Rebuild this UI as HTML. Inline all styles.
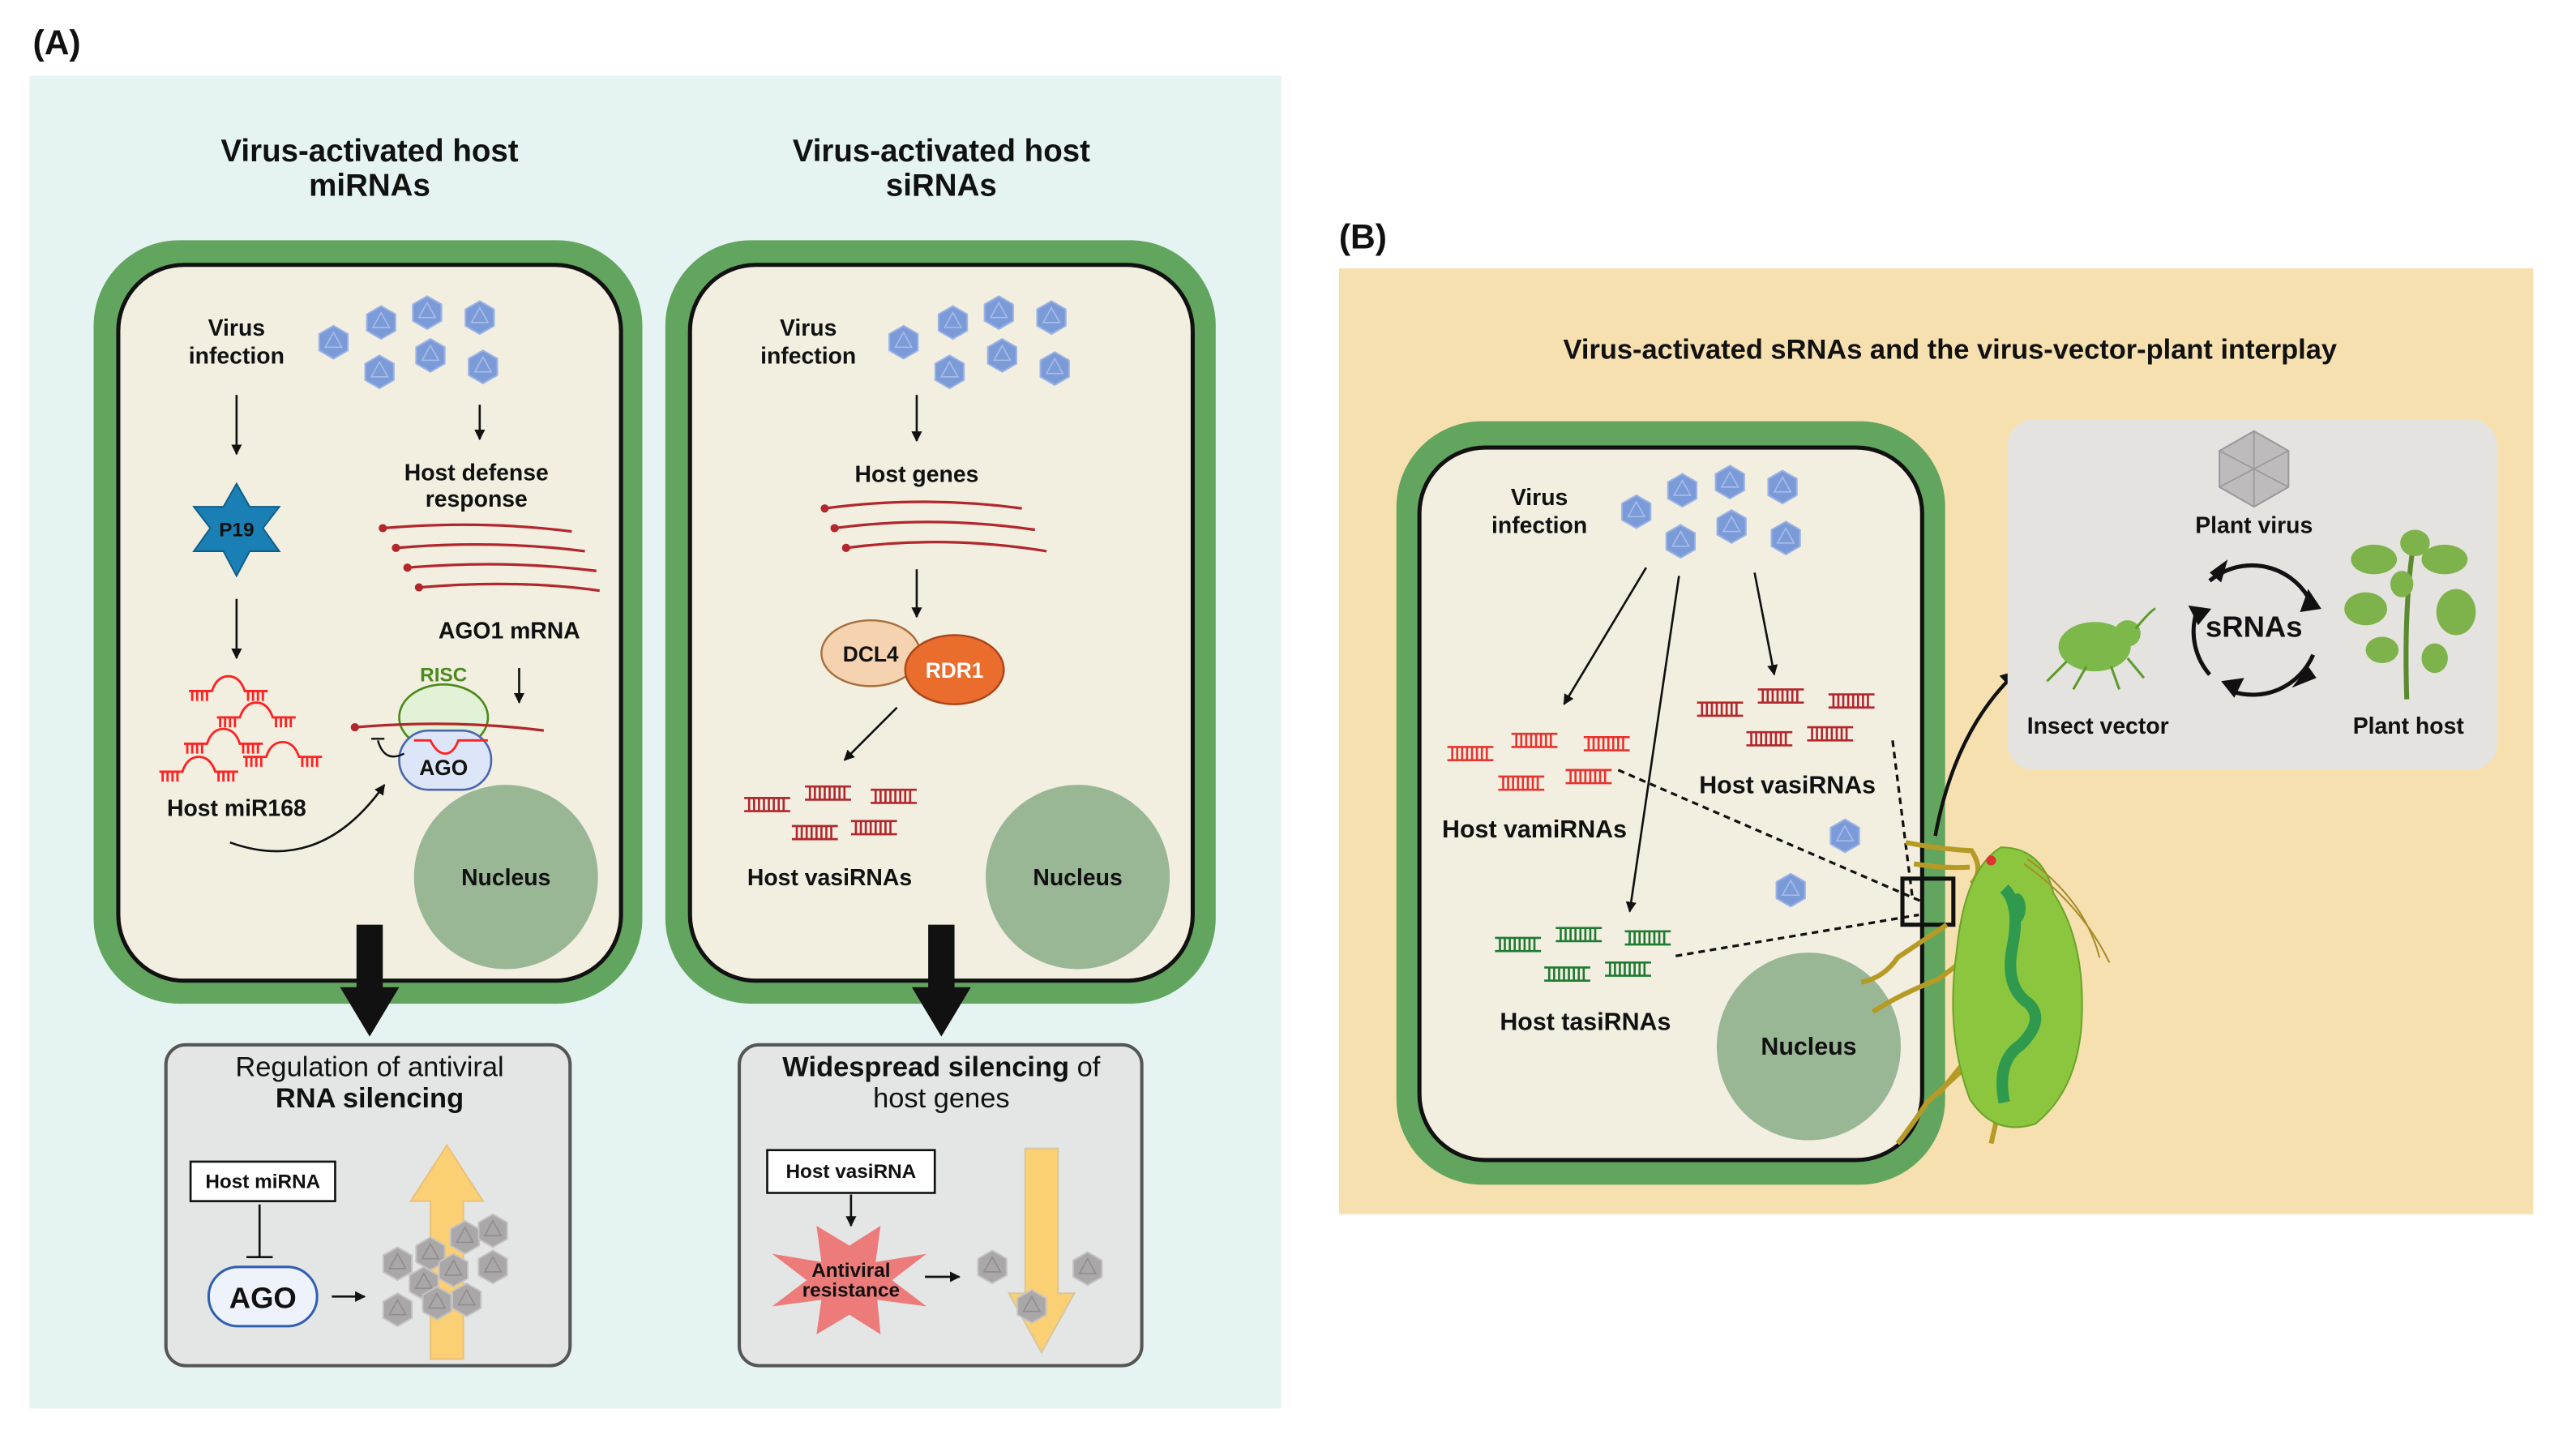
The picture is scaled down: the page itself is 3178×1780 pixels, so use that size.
<!DOCTYPE html>
<html><head><meta charset="utf-8"><style>
html,body{margin:0;padding:0;background:#fff}
svg{display:block}
text{font-family:"Liberation Sans",sans-serif;font-weight:bold;fill:#111}
</style></head><body>
<svg width="3178" height="1780" viewBox="0 0 1568 877" preserveAspectRatio="none" xmlns="http://www.w3.org/2000/svg">
<defs>
<g id="hx"><polygon points="0,-10 8.7,-5 8.7,5 0,10 -8.7,5 -8.7,-5" fill="#7b9ad8" stroke="#9cb3e4" stroke-width="1"/><polygon points="0,-6 5,3 -5,3" fill="none" stroke="#a8bde8" stroke-width="0.8"/></g>
<g id="gx"><polygon points="0,-10 8.7,-5 8.7,5 0,10 -8.7,5 -8.7,-5" fill="#a9a7a7" stroke="#c4c2c2" stroke-width="1"/><polygon points="0,-6 5,3 -5,3" fill="none" stroke="#8f8d8d" stroke-width="0.8"/></g>
<g id="dr"><path d="M0,0h28M0,8h28M3,0v8M6,0v8M9,0v8M12,0v8M15,0v8M18,0v8M21,0v8M24,0v8" stroke="#b3262c" stroke-width="1.3" fill="none"/></g>
<g id="dp"><path d="M0,0h28M0,8h28M3,0v8M6,0v8M9,0v8M12,0v8M15,0v8M18,0v8M21,0v8M24,0v8" stroke="#e8332f" stroke-width="1.3" fill="none"/></g>
<g id="dg"><path d="M0,0h28M0,8h28M3,0v8M6,0v8M9,0v8M12,0v8M15,0v8M18,0v8M21,0v8M24,0v8" stroke="#1f7a33" stroke-width="1.3" fill="none"/></g>
<g id="mi"><path d="M0,0h14q3,-9 10,-9q7,0 10,9h14M2,0v6M5,0v6M8,0v6M11,0v6M36,0v6M39,0v6M42,0v6M45,0v6" stroke="#f22" stroke-width="1.4" fill="none"/></g>
<marker id="ar" viewBox="0 0 10 10" refX="9" refY="5" markerWidth="5" markerHeight="5" orient="auto"><path d="M0,0L10,5L0,10z" fill="#111"/></marker>
</defs>

<!-- Panel A -->
<text x="20" y="33" font-size="21">(A)</text>
<rect x="18" y="46" width="762" height="810" fill="#e5f4f3"/>
<text x="225" y="98" font-size="19" text-anchor="middle">Virus-activated host</text>
<text x="225" y="119" font-size="19" text-anchor="middle">miRNAs</text>
<text x="573" y="98" font-size="19" text-anchor="middle">Virus-activated host</text>
<text x="573" y="119" font-size="19" text-anchor="middle">siRNAs</text>

<rect x="57" y="146" width="334" height="464" rx="52" fill="#62a55f"/>
<rect x="72" y="161" width="306" height="435" rx="40" fill="#f2efe1" stroke="#111" stroke-width="2.5"/>
<text x="144" y="204" font-size="14" text-anchor="middle">Virus</text>
<text x="144" y="221" font-size="14" text-anchor="middle">infection</text>
<use href="#hx" x="203" y="208"/><use href="#hx" x="232" y="196"/><use href="#hx" x="260" y="190"/><use href="#hx" x="292" y="193"/>
<use href="#hx" x="231" y="226"/><use href="#hx" x="262" y="216"/><use href="#hx" x="294" y="223"/>
<line x1="144" y1="240" x2="144" y2="276" stroke="#111" stroke-width="1.3" marker-end="url(#ar)"/>
<line x1="292" y1="246" x2="292" y2="267" stroke="#111" stroke-width="1.3" marker-end="url(#ar)"/>
<text x="290" y="292" font-size="14" text-anchor="middle">Host defense</text>
<text x="290" y="308" font-size="14" text-anchor="middle">response</text>
<g stroke="#b3262c" stroke-width="1.6" fill="none">
<path d="M233,321q60,-5 115,2"/><path d="M241,333q60,-5 115,2"/><path d="M248,345q60,-5 115,2"/><path d="M255,357q60,-5 110,2"/>
</g>
<g fill="#b3262c"><circle cx="233" cy="321" r="2.5"/><circle cx="241" cy="333" r="2.5"/><circle cx="248" cy="345" r="2.5"/><circle cx="255" cy="357" r="2.5"/></g>
<text x="310" y="388" font-size="14" text-anchor="middle">AGO1 mRNA</text>
<polygon points="144,294 152,308 170,308 160,321 170,335 152,335 144,350 136,335 118,335 128,321 118,308 136,308" fill="#1a7fb5" stroke="#0f5f8a"/>
<text x="144" y="326" font-size="12" text-anchor="middle">P19</text>
<line x1="144" y1="364" x2="144" y2="400" stroke="#111" stroke-width="1.3" marker-end="url(#ar)"/>
<use href="#mi" x="115" y="420"/><use href="#mi" x="132" y="436"/><use href="#mi" x="112" y="452"/><use href="#mi" x="148" y="460"/><use href="#mi" x="97" y="469"/>
<text x="144" y="496" font-size="14" text-anchor="middle">Host miR168</text>
<path d="M140,512q55,20 94,-35" stroke="#111" stroke-width="1.3" fill="none" marker-end="url(#ar)"/>
<text x="270" y="414" font-size="12" style="fill:#4a8a1a" text-anchor="middle">RISC</text>
<ellipse cx="270" cy="436" rx="27" ry="20" fill="#e2f2d6" stroke="#4a8a1a" stroke-width="1.3"/>
<rect x="243" y="444" width="56" height="36" rx="18" fill="#dde6f8" stroke="#4a66b0" stroke-width="1.3"/>
<text x="270" y="471" font-size="13" text-anchor="middle">AGO</text>
<path d="M216,442q60,-5 115,2" stroke="#b3262c" stroke-width="1.6" fill="none"/><circle cx="216" cy="442" r="2.5" fill="#b3262c"/>
<path d="M252,450h10q4,8 9,8q5,0 8,-8h18" stroke="#f22" stroke-width="1.4" fill="none"/>
<path d="M246,458q-12,6 -16,-8M226,449h8" stroke="#111" stroke-width="1.2" fill="none"/>
<line x1="316" y1="406" x2="316" y2="427" stroke="#111" stroke-width="1.3" marker-end="url(#ar)"/>
<ellipse cx="308" cy="533" rx="56" ry="56" fill="#99b795"/>
<text x="308" y="538" font-size="14" text-anchor="middle">Nucleus</text>

<rect x="405" y="146" width="335" height="464" rx="52" fill="#62a55f"/>
<rect x="420" y="161" width="306" height="435" rx="40" fill="#f2efe1" stroke="#111" stroke-width="2.5"/>
<text x="492" y="204" font-size="14" text-anchor="middle">Virus</text>
<text x="492" y="221" font-size="14" text-anchor="middle">infection</text>
<use href="#hx" x="550" y="208"/><use href="#hx" x="580" y="196"/><use href="#hx" x="608" y="190"/><use href="#hx" x="640" y="193"/>
<use href="#hx" x="578" y="226"/><use href="#hx" x="610" y="216"/><use href="#hx" x="642" y="224"/>
<line x1="558" y1="240" x2="558" y2="268" stroke="#111" stroke-width="1.3" marker-end="url(#ar)"/>
<text x="558" y="293" font-size="14" text-anchor="middle">Host genes</text>
<g stroke="#b3262c" stroke-width="1.6" fill="none"><path d="M502,309q60,-8 120,0"/><path d="M508,321q60,-8 122,1"/><path d="M515,333q60,-8 122,2"/></g>
<g fill="#b3262c"><circle cx="502" cy="309" r="2.5"/><circle cx="508" cy="321" r="2.5"/><circle cx="515" cy="333" r="2.5"/></g>
<line x1="558" y1="346" x2="558" y2="375" stroke="#111" stroke-width="1.3" marker-end="url(#ar)"/>
<ellipse cx="530" cy="397" rx="30" ry="20" fill="#f5d3b0" stroke="#a86f3c" stroke-width="1.2"/>
<text x="530" y="402" font-size="13" text-anchor="middle">DCL4</text>
<ellipse cx="581" cy="407" rx="30" ry="21" fill="#ea6d2e" stroke="#a8461a" stroke-width="1.2"/>
<text x="581" y="412" font-size="13" text-anchor="middle" style="fill:#fff">RDR1</text>
<line x1="546" y1="430" x2="514" y2="462" stroke="#111" stroke-width="1.3" marker-end="url(#ar)"/>
<use href="#dr" x="453" y="485"/><use href="#dr" x="490" y="478"/><use href="#dr" x="530" y="480"/><use href="#dr" x="482" y="502"/><use href="#dr" x="518" y="499"/>
<text x="505" y="538" font-size="14" text-anchor="middle">Host vasiRNAs</text>
<ellipse cx="656" cy="533" rx="56" ry="56" fill="#99b795"/>
<text x="656" y="538" font-size="14" text-anchor="middle">Nucleus</text>

<rect x="217" y="562" width="16" height="40" fill="#111"/><polygon points="207,600 243,600 225,630" fill="#111"/>
<rect x="565" y="562" width="16" height="40" fill="#111"/><polygon points="555,600 591,600 573,630" fill="#111"/>

<rect x="101" y="635" width="246" height="195" rx="12" fill="#e4e6e6" stroke="#555" stroke-width="2"/>
<text x="225" y="654" font-size="17" text-anchor="middle" style="font-weight:normal">Regulation of antiviral</text>
<text x="225" y="673" font-size="17" text-anchor="middle">RNA silencing</text>
<rect x="116" y="706" width="88" height="24" fill="#fff" stroke="#111" stroke-width="1.3"/>
<text x="160" y="722" font-size="12" text-anchor="middle">Host miRNA</text>
<path d="M158,732v32M150,764h16" stroke="#111" stroke-width="1.3"/>
<rect x="127" y="770" width="66" height="36" rx="18" fill="#eef3fb" stroke="#2f5fb3" stroke-width="1.5"/>
<text x="160" y="795" font-size="18" text-anchor="middle">AGO</text>
<line x1="202" y1="788" x2="222" y2="788" stroke="#111" stroke-width="1.3" marker-end="url(#ar)"/>
<polygon points="262,826 282,826 282,730 294,730 272,696 250,730 262,730" fill="#fbcf73" stroke="#e8c27a"/>
<use href="#gx" x="242" y="768"/><use href="#gx" x="262" y="762"/><use href="#gx" x="283" y="752"/><use href="#gx" x="300" y="748"/>
<use href="#gx" x="258" y="780"/><use href="#gx" x="276" y="772"/><use href="#gx" x="300" y="770"/><use href="#gx" x="242" y="796"/>
<use href="#gx" x="266" y="792"/><use href="#gx" x="284" y="790"/>

<rect x="450" y="635" width="245" height="195" rx="12" fill="#e4e6e6" stroke="#555" stroke-width="2"/>
<text x="573" y="654" font-size="17" text-anchor="middle">Widespread silencing <tspan style="font-weight:normal">of</tspan></text>
<text x="573" y="673" font-size="17" text-anchor="middle" style="font-weight:normal">host genes</text>
<rect x="467" y="699" width="102" height="26" fill="#fff" stroke="#111" stroke-width="1.3"/>
<text x="518" y="716" font-size="12" text-anchor="middle">Host vasiRNA</text>
<line x1="518" y1="726" x2="518" y2="745" stroke="#111" stroke-width="1.3" marker-end="url(#ar)"/>
<polygon points="517,757 536,745 533,767 564,762 543,778 564,794 534,790 536,811 517,799 497,811 500,790 470,794 491,778 470,762 500,767 497,745" fill="#ec7b7a"/>
<text x="518" y="776" font-size="12" text-anchor="middle">Antiviral</text>
<text x="518" y="788" font-size="12" text-anchor="middle">resistance</text>
<line x1="563" y1="776" x2="584" y2="776" stroke="#111" stroke-width="1.3" marker-end="url(#ar)"/>
<polygon points="624,698 644,698 644,786 654,786 634,822 614,786 624,786" fill="#fbcf73" stroke="#d6c7a0"/>
<use href="#gx" x="604" y="770"/><use href="#gx" x="662" y="771"/><use href="#gx" x="628" y="794"/>

<!-- Panel B -->
<text x="815" y="151" font-size="21">(B)</text>
<rect x="815" y="163" width="727" height="575" fill="#f6e0b0"/>
<text x="1187" y="218" font-size="17" text-anchor="middle">Virus-activated sRNAs and the virus-vector-plant interplay</text>
<rect x="850" y="256" width="334" height="464" rx="52" fill="#62a55f"/>
<rect x="864" y="272" width="306" height="433" rx="40" fill="#f2efe1" stroke="#111" stroke-width="2.5"/>
<text x="937" y="307" font-size="14" text-anchor="middle">Virus</text>
<text x="937" y="324" font-size="14" text-anchor="middle">infection</text>
<use href="#hx" x="996" y="311"/><use href="#hx" x="1024" y="298"/><use href="#hx" x="1053" y="293"/><use href="#hx" x="1085" y="296"/>
<use href="#hx" x="1023" y="329"/><use href="#hx" x="1054" y="320"/><use href="#hx" x="1087" y="327"/>
<line x1="1002" y1="345" x2="952" y2="428" stroke="#111" stroke-width="1.3" marker-end="url(#ar)"/>
<line x1="1022" y1="350" x2="992" y2="554" stroke="#111" stroke-width="1.3" marker-end="url(#ar)"/>
<line x1="1068" y1="348" x2="1080" y2="410" stroke="#111" stroke-width="1.3" marker-end="url(#ar)"/>
<use href="#dp" x="881" y="454"/><use href="#dp" x="920" y="446"/><use href="#dp" x="964" y="448"/><use href="#dp" x="912" y="472"/><use href="#dp" x="953" y="468"/>
<text x="934" y="509" font-size="15" text-anchor="middle">Host vamiRNAs</text>
<use href="#dr" x="1033" y="427"/><use href="#dr" x="1070" y="419"/><use href="#dr" x="1113" y="422"/><use href="#dr" x="1063" y="445"/><use href="#dr" x="1100" y="442"/>
<text x="1088" y="482" font-size="15" text-anchor="middle">Host vasiRNAs</text>
<use href="#dg" x="910" y="570"/><use href="#dg" x="947" y="564"/><use href="#dg" x="989" y="566"/><use href="#dg" x="940" y="588"/><use href="#dg" x="977" y="585"/>
<text x="965" y="626" font-size="15" text-anchor="middle">Host tasiRNAs</text>
<use href="#hx" x="1123" y="508"/><use href="#hx" x="1090" y="541"/>
<ellipse cx="1101" cy="636" rx="56" ry="57" fill="#99b795"/>
<text x="1101" y="641" font-size="15" text-anchor="middle">Nucleus</text>
<g stroke="#111" stroke-width="1.6" stroke-dasharray="4,3" fill="none">
<path d="M985,468L1170,548"/><path d="M1020,581L1168,556"/><path d="M1152,450L1164,545"/>
</g>
<rect x="1158" y="534" width="31" height="28" fill="none" stroke="#111" stroke-width="2.5"/>
<path d="M1178,508q12,-65 50,-100" stroke="#111" stroke-width="2.2" fill="none" marker-end="url(#ar)"/>
<g>
<path d="M1160,512q20,4 40,5q8,12 0,20M1165,525q18,3 34,2M1185,562l-30,20q-8,12 -22,15M1200,580l-20,15q-25,10 -40,20M1195,650l-22,20q-10,15 -18,25M1200,640l-20,25M1235,630l10,30M1245,635l12,25M1220,660l-8,35" stroke="#b59b25" stroke-width="3" fill="none"/>
<path d="M1218,515q25,0 32,28q20,30 17,80q-3,40 -28,60q-25,8 -40,-15q-15,-40 -8,-90q5,-50 27,-63z" fill="#8cc63f" stroke="#6ba32a" stroke-width="1"/>
<path d="M1220,540q10,10 5,35q-5,25 10,35q10,10 -5,25q-15,10 -10,35" stroke="#2f9a4e" stroke-width="7" fill="none"/>
<ellipse cx="1228" cy="552" rx="5" ry="9" fill="#2f9a4e"/>
<circle cx="1212" cy="523" r="3" fill="#e03030"/>
<path d="M1232,525q35,25 52,60M1234,522q35,25 44,60" stroke="#a78b2a" stroke-width="1" fill="none"/>
</g>

<rect x="1222" y="255" width="298" height="213" rx="16" fill="#e4e3df"/>
<polygon points="1372,262 1393,274 1393,296 1372,308 1351,296 1351,274" fill="#bdbbbb" stroke="#999" stroke-width="1"/>
<path d="M1351,274L1393,296M1393,274L1351,296M1372,262v46" stroke="#999" stroke-width="0.8"/>
<text x="1372" y="324" font-size="14" text-anchor="middle">Plant virus</text>
<g stroke="#111" stroke-width="2.5" fill="none">
<path d="M1345,353a40,40 0 0 1 60,10"/><path d="M1408,398a40,40 0 0 1 -50,22"/><path d="M1345,410a40,40 0 0 1 -8,-38"/>
</g>
<polygon points="1405,358 1413,370 1400,372" fill="#111"/><polygon points="1360,424 1352,414 1366,412" fill="#111"/><polygon points="1338,380 1332,368 1346,370" fill="#111"/>
<polygon points="1345,348 1356,340 1352,354" fill="#111"/><polygon points="1405,405 1395,418 1410,412" fill="#111"/>
<text x="1372" y="387" font-size="18" text-anchor="middle">sRNAs</text>
<g>
<ellipse cx="1275" cy="393" rx="22" ry="15" fill="#7cb84a"/>
<circle cx="1295" cy="385" r="8" fill="#7cb84a"/>
<path d="M1258,402l-12,12M1270,405l-8,14M1285,405l5,14M1295,400l10,12M1300,382q10,-12 12,-12" stroke="#5c9a2a" stroke-width="1.5" fill="none"/>
</g>
<text x="1277" y="446" font-size="14" text-anchor="middle">Insect vector</text>
<g>
<path d="M1465,425q-2,-60 5,-100" stroke="#5c8a30" stroke-width="3" fill="none"/>
<g fill="#7eb24a">
<ellipse cx="1445" cy="340" rx="14" ry="9"/><ellipse cx="1488" cy="340" rx="14" ry="9"/><ellipse cx="1440" cy="370" rx="13" ry="10"/><ellipse cx="1495" cy="372" rx="12" ry="14"/>
<ellipse cx="1450" cy="395" rx="10" ry="8"/><ellipse cx="1482" cy="400" rx="8" ry="9"/><ellipse cx="1470" cy="330" rx="9" ry="8"/><ellipse cx="1462" cy="355" rx="7" ry="8"/>
</g>
</g>
<text x="1466" y="446" font-size="14" text-anchor="middle">Plant host</text>
</svg>
</body></html>
